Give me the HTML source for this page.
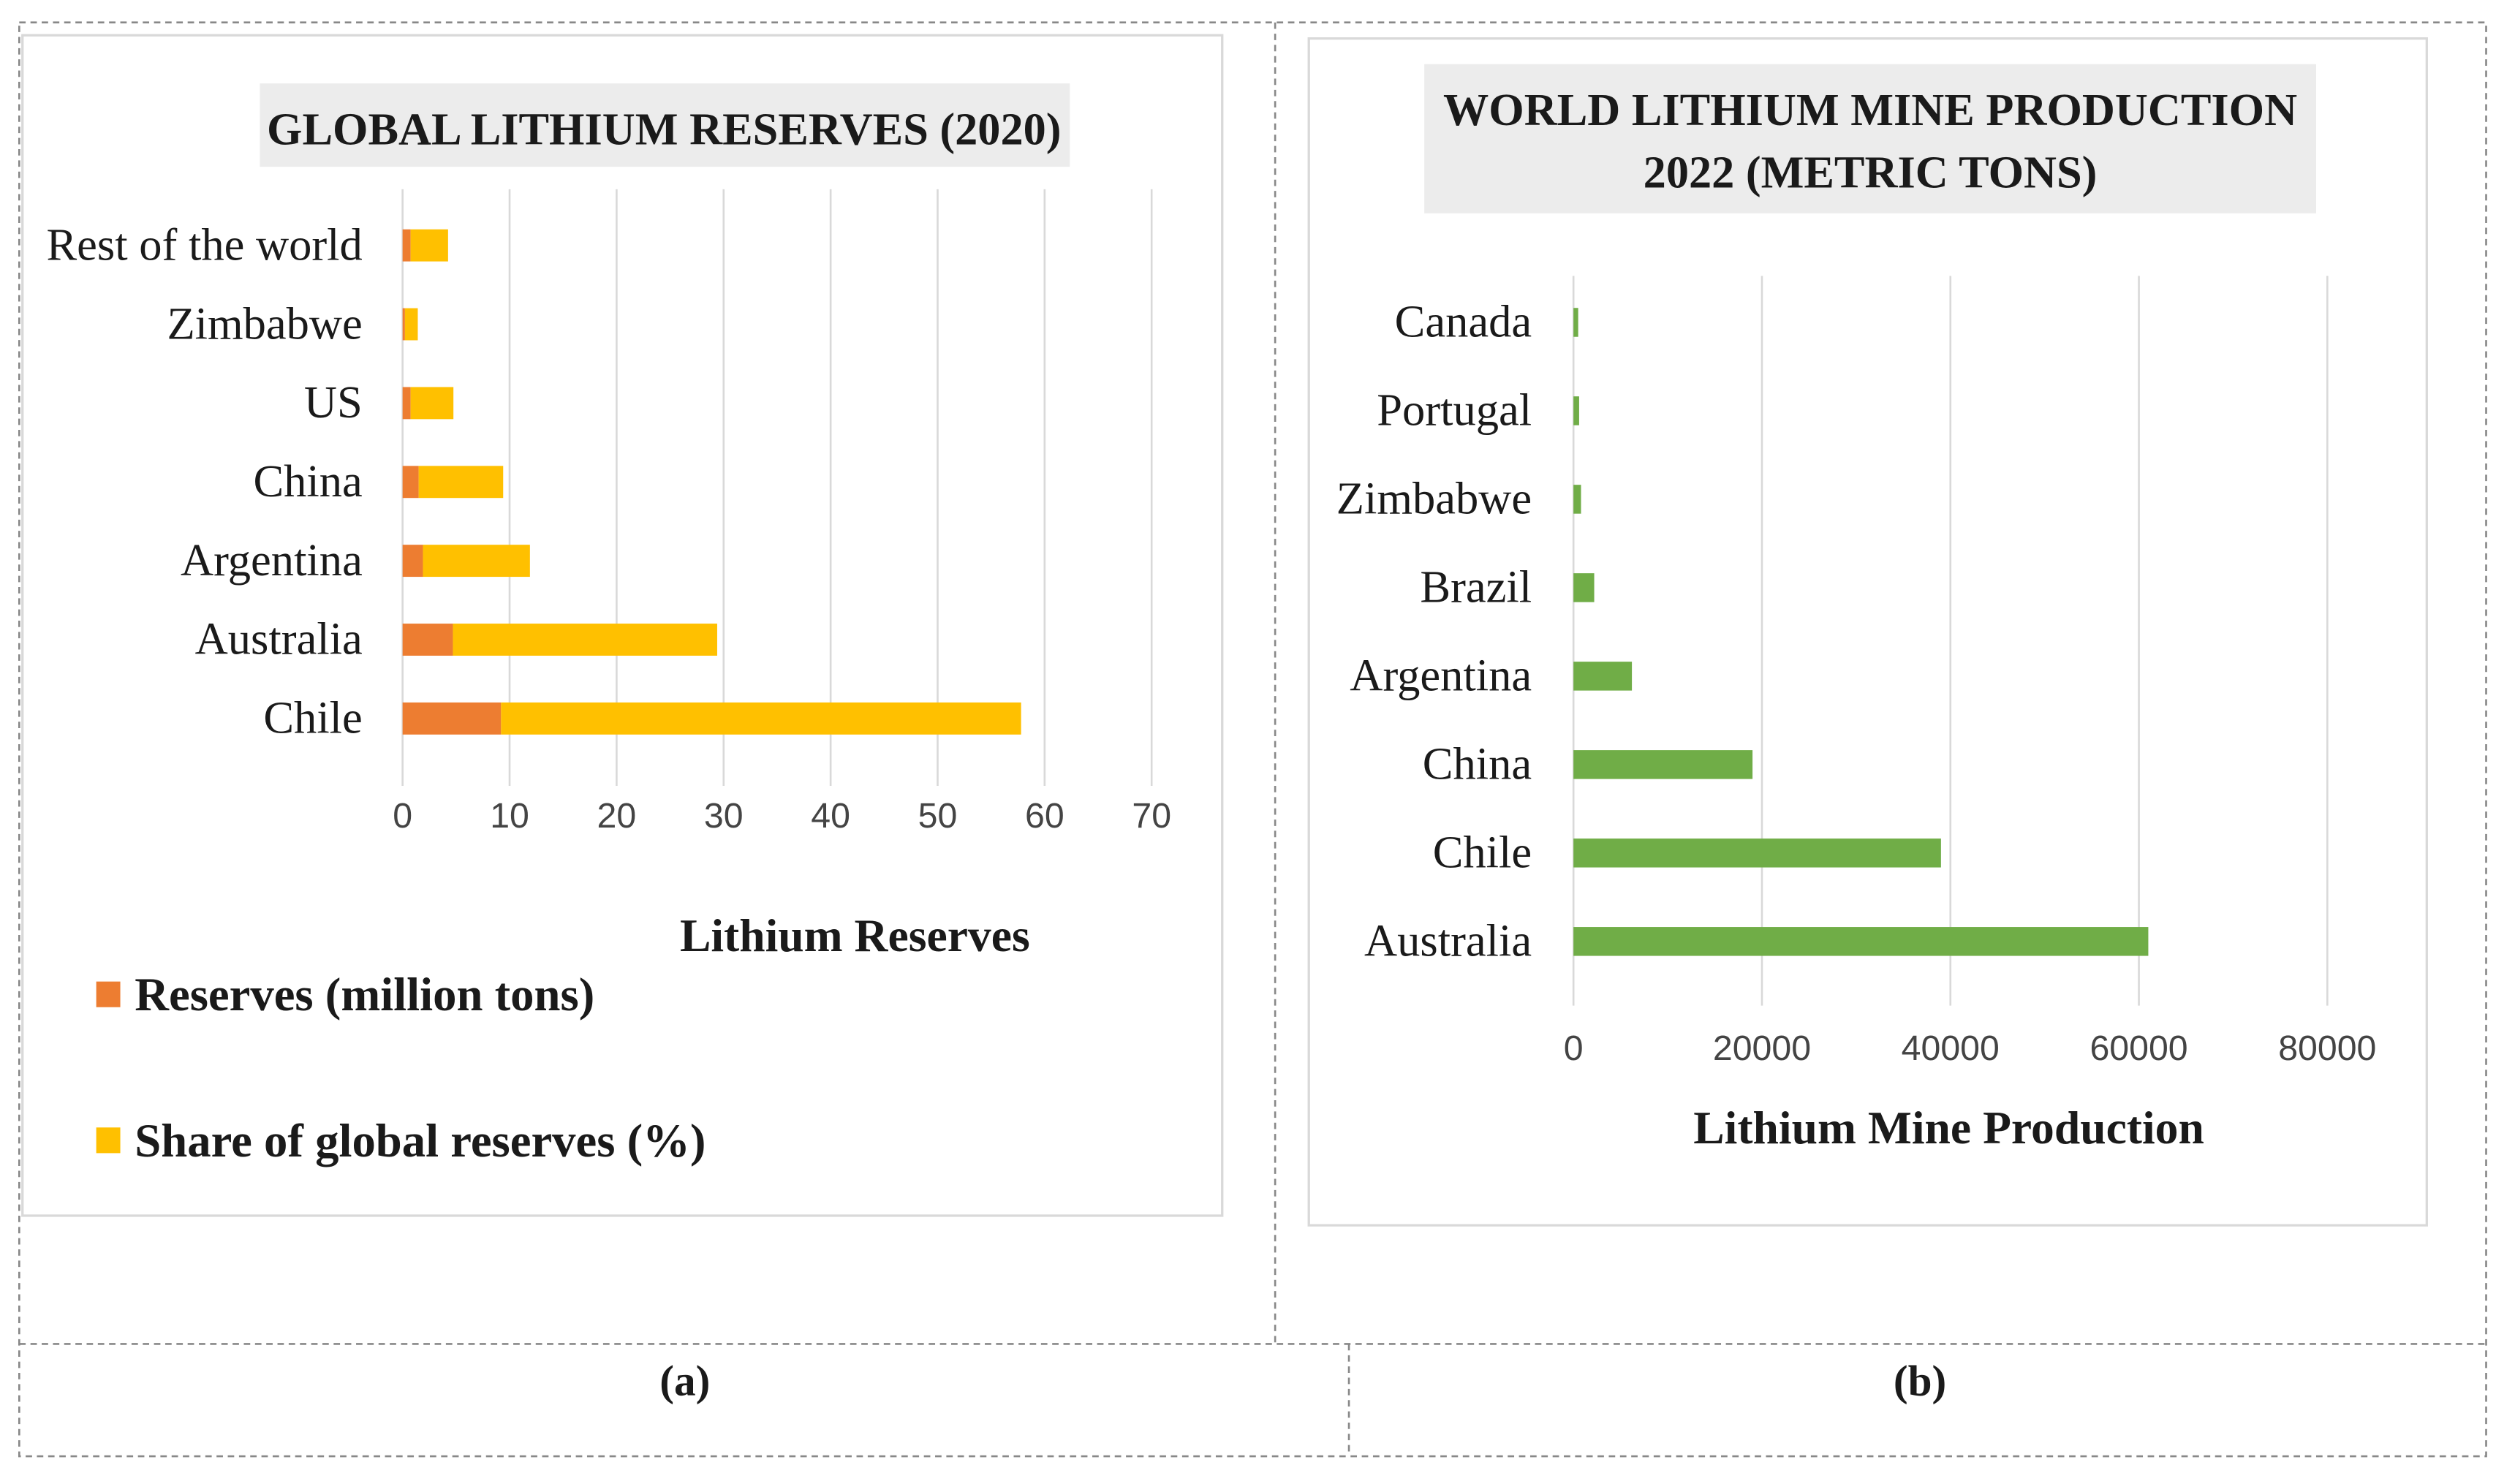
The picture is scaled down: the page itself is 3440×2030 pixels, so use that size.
<!DOCTYPE html>
<html><head><meta charset="utf-8"><style>
html,body{margin:0;padding:0;background:#fff;}
svg{display:block;}
.lab{font-family:"Liberation Serif",serif;fill:#1a1a1a;}
.tick{font-family:"Liberation Sans",sans-serif;fill:#444;}
</style></head><body>
<svg id="fig" width="3440" height="2030" viewBox="0 0 1568 925.3" xmlns="http://www.w3.org/2000/svg">
<g fill="none" stroke="#888" stroke-width="1.2" stroke-dasharray="4,3">
<rect x="12" y="14" width="1538" height="894"/>
<line x1="795" y1="14" x2="795" y2="838"/>
<line x1="12" y1="838" x2="1550" y2="838"/>
<line x1="841" y1="838" x2="841" y2="908"/>
</g>
<rect x="14" y="22" width="748" height="736" fill="#fff" stroke="#d9d9d9" stroke-width="1.5"/>
<rect x="816" y="24" width="697" height="740" fill="#fff" stroke="#d9d9d9" stroke-width="1.5"/>
<rect x="162" y="52" width="505" height="52" fill="#ececec"/>
<text class="lab" x="414" y="90" font-size="28.4" font-weight="bold" text-anchor="middle">GLOBAL LITHIUM RESERVES (2020)</text>
<rect x="888" y="40" width="556" height="93" fill="#ececec"/>
<text class="lab" x="1166" y="78" font-size="28.4" font-weight="bold" text-anchor="middle">WORLD LITHIUM MINE PRODUCTION</text>
<text class="lab" x="1166" y="117" font-size="28.4" font-weight="bold" text-anchor="middle">2022 (METRIC TONS)</text>
<g id="ca"></g>
<g id="cb"></g>
<text class="lab" x="533" y="593" font-size="29" font-weight="bold" text-anchor="middle">Lithium Reserves</text>
<rect x="60" y="612" width="15" height="16" fill="#ed7d31"/>
<text class="lab" x="84" y="630" font-size="29.5" font-weight="bold">Reserves (million tons)</text>
<rect x="60" y="703" width="15" height="16" fill="#ffc000"/>
<text class="lab" x="84" y="721" font-size="29.5" font-weight="bold">Share of global reserves (%)</text>
<text class="lab" x="1215" y="713" font-size="29" font-weight="bold" text-anchor="middle">Lithium Mine Production</text>
<text class="lab" x="427" y="870" font-size="27" font-weight="bold" text-anchor="middle">(a)</text>
<text class="lab" x="1197" y="870" font-size="27" font-weight="bold" text-anchor="middle">(b)</text>
</svg>
<script>
const catsA=["Rest of the world","Zimbabwe","US","China","Argentina","Australia","Chile"];
const reservesA=[0.75,0.22,0.75,1.5,1.9,4.7,9.2];
const shareA=[3.5,1.2,4.0,7.9,10.0,24.7,48.6];
const ticksA=[0,10,20,30,40,50,60,70];
const catsB=["Canada","Portugal","Zimbabwe","Brazil","Argentina","China","Chile","Australia"];
const prodB=[500,600,800,2200,6200,19000,39000,61000];
const ticksB=[0,20000,40000,60000,80000];
const NS="http://www.w3.org/2000/svg";
function mk(p,t,a){const e=document.createElementNS(NS,t);for(const k in a)e.setAttribute(k,a[k]);p.appendChild(e);return e;}
const ga=document.getElementById('ca');
const xa=v=>251+v*(718-251)/70;
const ya=i=>153+i*(448-153)/(catsA.length-1);
ticksA.forEach(t=>{
 const l=mk(ga,'line',{x1:xa(t),x2:xa(t),y1:118,y2:490,stroke:'#d9d9d9','stroke-width':1.2});
 
 
 const tx=mk(ga,'text',{x:xa(t),y:516,'font-size':22,'text-anchor':'middle',class:'tick'});tx.textContent=t;
 
 
});
catsA.forEach((c,i)=>{
 const y=ya(i);
 const t=mk(ga,'text',{x:226,y:y+9,'font-size':28.5,'text-anchor':'end',class:'lab'});t.textContent=c;
 
 
 const r1=mk(ga,'rect',{x:xa(0),y:y-10,width:xa(reservesA[i])-xa(0),height:20,fill:'#ed7d31'});
 
 
 const r2=mk(ga,'rect',{x:xa(reservesA[i]),y:y-10,width:xa(reservesA[i]+shareA[i])-xa(reservesA[i]),height:20,fill:'#ffc000'});
 
 
});
const gb=document.getElementById('cb');
const xb=v=>981+v*(1451-981)/80000;
const yb=i=>201+i*(587-201)/(catsB.length-1);
ticksB.forEach(t=>{
 const l=mk(gb,'line',{x1:xb(t),x2:xb(t),y1:172,y2:627,stroke:'#d9d9d9','stroke-width':1.2});
 
 
 const tx=mk(gb,'text',{x:xb(t),y:661,'font-size':22,'text-anchor':'middle',class:'tick'});tx.textContent=t;
 
 
});
catsB.forEach((c,i)=>{
 const y=yb(i);
 const t=mk(gb,'text',{x:955,y:y+9,'font-size':28.5,'text-anchor':'end',class:'lab'});t.textContent=c;
 
 
 const r=mk(gb,'rect',{x:xb(0),y:y-9,width:xb(prodB[i])-xb(0),height:18,fill:'#70ad47'});
 
 
});
</script>
</body></html>
